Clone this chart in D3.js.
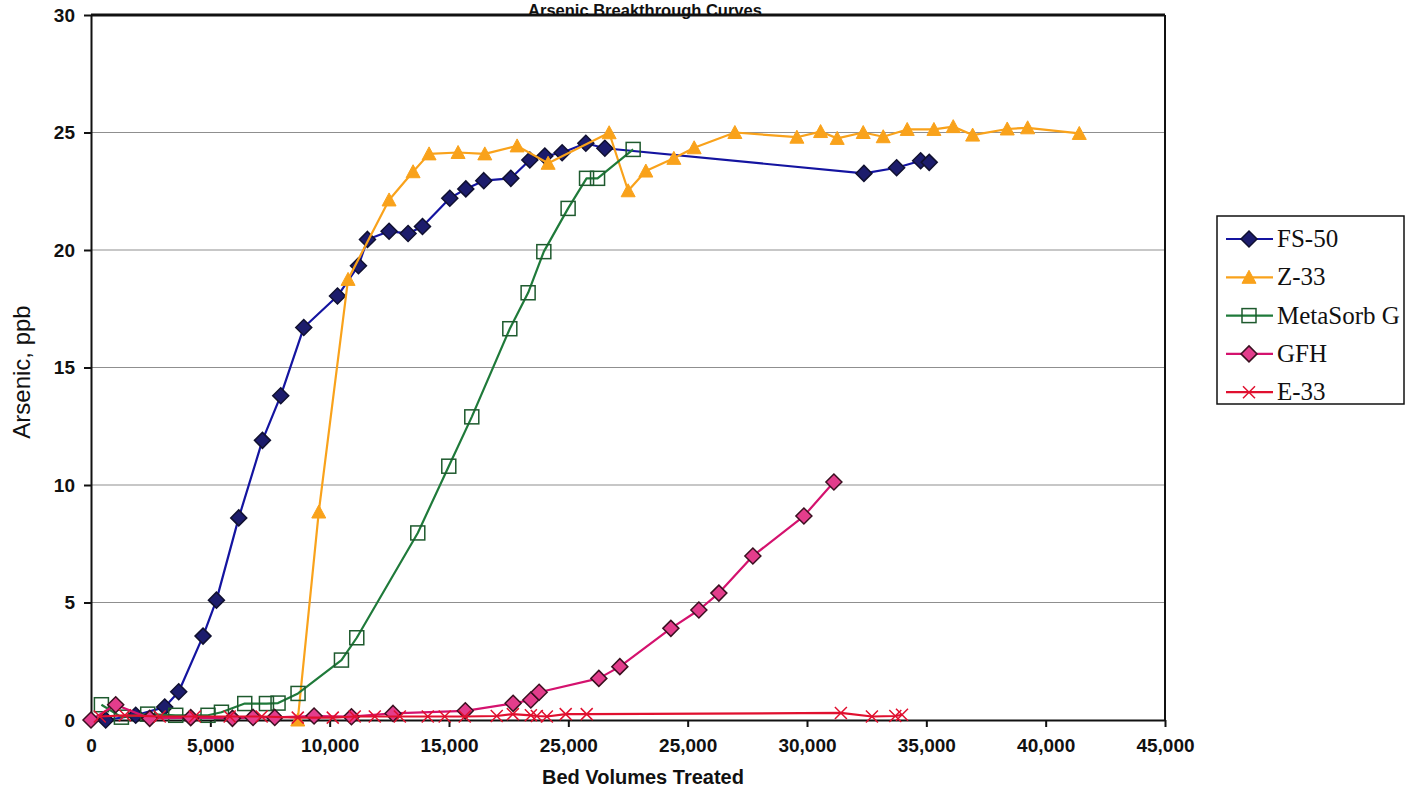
<!DOCTYPE html>
<html>
<head>
<meta charset="utf-8">
<script src="https://cdn.jsdelivr.net/npm/d3@7"></script>
<style>
  html, body { margin: 0; padding: 0; background: #fff; }
  svg { display: block; }
</style>
</head>
<body>
<svg id="chart" width="1415" height="787"></svg>
<script>
// ---- data ----
const seriesNames = ["FS-50", "Z-33", "MetaSorb G", "GFH", "E-33"];

const fs50X = [616, 1873, 3089, 3675, 4694, 5255, 6190, 7183, 7950, 8914, 10327, 11206, 11584, 12489, 13285, 13889, 15033, 15704, 16458, 17590, 18386, 19015, 19740, 20733, 21530, 32385, 33755, 34761, 35121];
const fs50Y = [0.0, 0.2, 0.55, 1.2, 3.57, 5.1, 8.6, 11.9, 13.8, 16.7, 18.04, 19.33, 20.45, 20.8, 20.7, 21.0, 22.2, 22.6, 22.95, 23.05, 23.83, 24.0, 24.14, 24.54, 24.33, 23.26, 23.5, 23.8, 23.73];

const z33X = [8663, 9543, 10771, 12489, 13495, 14165, 15381, 16500, 17854, 19153, 21710, 22506, 23248, 24421, 25272, 26978, 29576, 30569, 31265, 32355, 33193, 34199, 35318, 36127, 36940, 38390, 39245, 41408];
const z33Y = [0.0, 8.85, 18.75, 22.13, 23.33, 24.09, 24.15, 24.09, 24.43, 23.69, 24.99, 22.52, 23.36, 23.9, 24.35, 25.0, 24.8, 25.04, 24.75, 25.0, 24.82, 25.13, 25.13, 25.25, 24.89, 25.15, 25.2, 24.96];

const metaX = [436, 1274, 2376, 3550, 4903, 5465, 6442, 7351, 7837, 8675, 10494, 11136, 13692, 14991, 15955, 17548, 18315, 18973, 19991, 20763, 21224, 22716];
const metaY = [0.65, 0.12, 0.25, 0.2, 0.2, 0.33, 0.7, 0.7, 0.72, 1.13, 2.55, 3.5, 7.96, 10.8, 12.9, 16.65, 18.18, 19.93, 21.77, 23.05, 23.05, 24.28];

const gfhX = [0, 1035, 2460, 4178, 5926, 6790, 7699, 9346, 10913, 12656, 15683, 17686, 18428, 18776, 21278, 22158, 24296, 25469, 26307, 27732, 29870, 31127];
const gfhY = [0.0, 0.65, 0.07, 0.1, 0.07, 0.11, 0.11, 0.17, 0.14, 0.28, 0.39, 0.71, 0.85, 1.18, 1.77, 2.27, 3.9, 4.68, 5.4, 6.98, 8.68, 10.13];

const e33X = [367, 1417, 2880, 4350, 5810, 7150, 8663, 10130, 11050, 11890, 12940, 14110, 14820, 15660, 17000, 17675, 18430, 18680, 19100, 19890, 20770, 31420, 32720, 33700, 33980];
const e33Y = [0.15, 0.2, 0.15, 0.15, 0.15, 0.15, 0.1, 0.1, 0.15, 0.15, 0.15, 0.15, 0.15, 0.15, 0.17, 0.25, 0.2, 0.17, 0.15, 0.25, 0.25, 0.3, 0.15, 0.17, 0.22];

const xTickValues = [0, 5000, 10000, 15000, 20000, 25000, 30000, 35000, 40000, 45000];
const xTickLabels = ["0", "5,000", "10,000", "15,000", "25,000", "25,000", "30,000", "35,000", "40,000", "45,000"];
const yTickValues = [0, 5, 10, 15, 20, 25, 30];
const yTickLabels = ["0", "5", "10", "15", "20", "25", "30"];

const titleText = "Arsenic Breakthrough Curves";
const xTitle = "Bed Volumes Treated";
const yTitle = "Arsenic, ppb";

// ---- styles ----
const styles = {
  "FS-50":      { line: "#1414a0", fill: "#1c1c6c", stroke: "#101030", marker: "diamond" },
  "Z-33":       { line: "#f9a21b", fill: "#f9a21b", stroke: "#f9a21b", marker: "triangle" },
  "MetaSorb G": { line: "#1f7a3a", fill: "none",    stroke: "#1e5a2e", marker: "square" },
  "GFH":        { line: "#d4126e", fill: "#e33d8c", stroke: "#3a1020", marker: "diamond" },
  "E-33":       { line: "#e0102f", fill: "none",    stroke: "#e0102f", marker: "x" }
};

const zip = (xs, ys) => xs.map((v, i) => ({ x: v, y: ys[i] }));
const series = [
  { name: "FS-50", data: zip(fs50X, fs50Y) },
  { name: "Z-33", data: zip(z33X, z33Y) },
  { name: "MetaSorb G", data: zip(metaX, metaY) },
  { name: "GFH", data: zip(gfhX, gfhY) },
  { name: "E-33", data: zip(e33X, e33Y) }
];

const svg = d3.select("#chart");
const x = d3.scaleLinear().domain([0, 45000]).range([91, 1165]);
const y = d3.scaleLinear().domain([0, 30]).range([720, 15]);

// gridlines
svg.append("g")
  .selectAll("line")
  .data(yTickValues.filter(v => v > 0 && v < 30))
  .join("line")
  .attr("x1", x(0)).attr("x2", x(45000))
  .attr("y1", d => y(d)).attr("y2", d => y(d))
  .attr("stroke", "#8f8f8f").attr("stroke-width", 1);

// frame: top and right border
svg.append("line").attr("x1", x(0)).attr("x2", x(45000)).attr("y1", y(30)).attr("y2", y(30))
  .attr("stroke", "#111").attr("stroke-width", 3);
svg.append("line").attr("x1", x(45000)).attr("x2", x(45000)).attr("y1", y(30)).attr("y2", y(0))
  .attr("stroke", "#111").attr("stroke-width", 2);

// axes
const xAxis = d3.axisBottom(x).tickValues(xTickValues)
  .tickFormat((d, i) => xTickLabels[i]).tickSize(7).tickSizeOuter(0).tickPadding(12);
const gx = svg.append("g").attr("transform", `translate(0,${y(0)})`).call(xAxis);
gx.select(".domain").attr("stroke", "#111").attr("stroke-width", 2);
gx.selectAll(".tick line").attr("stroke", "#111").attr("stroke-width", 2);
gx.selectAll(".tick text").attr("font-family", "Liberation Sans, Arial, sans-serif")
  .attr("font-size", 19).attr("font-weight", "bold").attr("fill", "#111");

const yAxis = d3.axisLeft(y).tickValues(yTickValues)
  .tickFormat((d, i) => yTickLabels[i]).tickSize(7).tickSizeOuter(0).tickPadding(9);
const gy = svg.append("g").attr("transform", `translate(${x(0)},0)`).call(yAxis);
gy.select(".domain").attr("stroke", "#111").attr("stroke-width", 2);
gy.selectAll(".tick line").attr("stroke", "#111").attr("stroke-width", 2);
gy.selectAll(".tick text").attr("font-family", "Liberation Sans, Arial, sans-serif")
  .attr("font-size", 19).attr("font-weight", "bold").attr("fill", "#111");

// marker drawing
function drawMarker(g, type, st) {
  if (type === "diamond") {
    g.append("path").attr("d", "M0,-8L8,0L0,8L-8,0Z")
      .attr("fill", st.fill).attr("stroke", st.stroke).attr("stroke-width", 1.5);
  } else if (type === "triangle") {
    g.append("path").attr("d", "M0,-7L7,6L-7,6Z")
      .attr("fill", st.fill).attr("stroke", st.stroke).attr("stroke-width", 1);
  } else if (type === "square") {
    g.append("rect").attr("x", -7).attr("y", -7).attr("width", 14).attr("height", 14)
      .attr("fill", "none").attr("stroke", st.stroke).attr("stroke-width", 1.5);
  } else if (type === "x") {
    g.append("path").attr("d", "M-6,-6L6,6M-6,6L6,-6")
      .attr("fill", "none").attr("stroke", st.stroke).attr("stroke-width", 1.5);
  }
}

const line = d3.line().x(d => x(d.x)).y(d => y(d.y));
const plot = svg.append("g");
series.forEach(s => {
  const st = styles[s.name];
  const g = plot.append("g");
  g.append("path").datum(s.data).attr("d", line)
    .attr("fill", "none").attr("stroke", st.line).attr("stroke-width", 2.2)
    .attr("stroke-linejoin", "round");
  g.selectAll("g.m").data(s.data).join("g").attr("class", "m")
    .attr("transform", d => `translate(${x(d.x)},${y(d.y)})`)
    .each(function () { drawMarker(d3.select(this), st.marker, st); });
});

// titles
svg.append("text").attr("x", 645).attr("y", 15.5).attr("text-anchor", "middle")
  .attr("font-family", "Liberation Sans, Arial, sans-serif").attr("font-size", 16.5)
  .attr("font-weight", "bold").attr("fill", "#111").text(titleText);
svg.append("text").attr("x", 643).attr("y", 784).attr("text-anchor", "middle")
  .attr("font-family", "Liberation Sans, Arial, sans-serif").attr("font-size", 20)
  .attr("font-weight", "bold").attr("fill", "#111").text(xTitle);
svg.append("text").attr("transform", "translate(30,372) rotate(-90)").attr("text-anchor", "middle")
  .attr("font-family", "Liberation Sans, Arial, sans-serif").attr("font-size", 24)
  .attr("fill", "#111").text(yTitle);

// legend
const lg = svg.append("g");
lg.append("rect").attr("x", 1217).attr("y", 216).attr("width", 187).attr("height", 188)
  .attr("fill", "#fff").attr("stroke", "#111").attr("stroke-width", 1.5);
seriesNames.forEach((name, i) => {
  const st = styles[name];
  const cy = 239 + i * 38.3;
  const item = lg.append("g");
  item.append("line").attr("x1", 1226).attr("x2", 1273).attr("y1", cy).attr("y2", cy)
    .attr("stroke", st.line).attr("stroke-width", 2.2);
  const m = item.append("g").attr("transform", `translate(1249,${cy})`);
  drawMarker(m, st.marker, st);
  item.append("text").attr("x", 1277).attr("y", cy + 8)
    .attr("font-family", "Liberation Serif, Times New Roman, serif").attr("font-size", 25)
    .attr("fill", "#111").text(name);
});
</script>
</body>
</html>
